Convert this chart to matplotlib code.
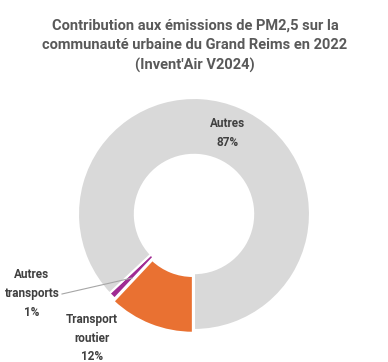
import matplotlib
matplotlib.use('Agg')
import matplotlib.pyplot as plt

plt.rcParams['font.family'] = ['Roboto', 'DejaVu Sans']

categories = ['Transport routier', 'Autres transports', 'Autres']
shares = [12, 1, 87]
colors = ['#E97132', '#A02B93', '#D9D9D9']
title = "Contribution aux émissions de PM2,5 sur la\ncommunauté urbaine du Grand Reims en 2022\n(Invent'Air V2024)"

W, H = 388, 362
fig = plt.figure(figsize=(W / 100, H / 100), dpi=100)
ax = fig.add_axes([0, 0, 1, 1])

cx, cy, r = 194, H - 214, 116
wedges, _ = ax.pie(shares, colors=colors, startangle=-90, counterclock=False,
                   center=(cx, cy), radius=r, explode=[3, 0, 0],
                   wedgeprops=dict(width=r * 0.49, edgecolor='white', linewidth=1.5),
                   frame=True)
ax.set_xlim(0, W)
ax.set_ylim(0, H)
ax.axis('off')

txt = '#404040'
ax.text(195, H - 46, title, ha='center', va='center', fontsize=10.5, fontweight='bold',
        color='#595959', linespacing=1.5)

# etiquettes
ax.text(228, H - 133, f"{categories[2]}\n{shares[2]}%", ha='center', va='center',
        fontsize=8.5, fontweight='bold', color=txt, linespacing=1.6)
ax.text(92, H - 338, "Transport\nroutier\n" + f"{shares[0]}%", ha='center', va='center',
        fontsize=8.5, fontweight='bold', color=txt, linespacing=1.6)
ax.text(32, H - 294, "Autres\ntransports\n" + f"{shares[1]}%", ha='center', va='center',
        fontsize=8.5, fontweight='bold', color=txt, linespacing=1.6)
ax.plot([62, 132], [H - 294, H - 278], color='#A6A6A6', lw=0.8)

fig.savefig('out.png', dpi=100)
